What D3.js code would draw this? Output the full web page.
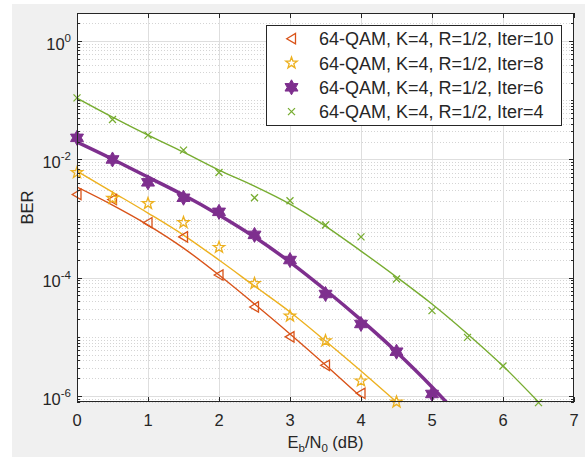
<!DOCTYPE html>
<html>
<head>
<meta charset="utf-8">
<script src="https://cdn.jsdelivr.net/npm/d3@7"></script>
<style>
	html, body { margin: 0; padding: 0; background: #fff; }
	svg { display: block; font-family: "Liberation Sans", Arial, sans-serif; }
</style>
</head>
<body>
<div id="berChart"></div>
<script>
// BER 곡선 데이터
const legendLabels = [
	"64-QAM, K=4, R=1/2, Iter=10",
	"64-QAM, K=4, R=1/2, Iter=8",
	"64-QAM, K=4, R=1/2, Iter=6",
	"64-QAM, K=4, R=1/2, Iter=4"
];
const xTicks = [0, 1, 2, 3, 4, 5, 6, 7];
const yTickExps = [0, -2, -4, -6];

// 시뮬레이션 점 (마커)
const simX10 = [0, 0.5, 1, 1.5, 2, 2.5, 3, 3.5, 4];
const simIter10 = [2.56e-3, 2.1e-3, 8.5e-4, 4.9e-4, 1.11e-4, 3.2e-5, 1.0e-5, 3.3e-6, 1.11e-6];
const simX8 = [0, 0.5, 1, 1.5, 2, 2.5, 3, 3.5, 4, 4.5];
const simIter8 = [6.0e-3, 2.2e-3, 1.8e-3, 8.6e-4, 3.26e-4, 8.0e-5, 2.25e-5, 8.6e-6, 1.8e-6, 7.9e-7];
const simX6 = [0, 0.5, 1, 1.5, 2, 2.5, 3, 3.5, 4, 4.5, 5];
const simIter6 = [2.32e-2, 1.0e-2, 4.1e-3, 2.25e-3, 1.3e-3, 5.3e-4, 1.99e-4, 5.3e-5, 1.65e-5, 5.6e-6, 1.08e-6];
const simX4 = [0, 0.5, 1, 1.5, 2, 2.5, 3, 3.5, 4, 4.5, 5, 5.5, 6, 6.5];
const simIter4 = [0.110, 0.0475, 0.0258, 0.0144, 6.0e-3, 2.25e-3, 2.0e-3, 7.8e-4, 4.9e-4, 9.5e-5, 2.77e-5, 9.8e-6, 3.2e-6, 7.7e-7];

// 근사 곡선 (실선)
const fitX10 = [0, 0.5, 1, 1.5, 2, 2.5, 3, 3.5, 4];
const fitIter10 = [3.41e-3, 1.69e-3, 7.77e-4, 3.17e-4, 1.11e-4, 3.59e-5, 1.12e-5, 3.34e-6, 9.62e-7];
const fitX8 = [0, 0.5, 1, 1.5, 2, 2.5, 3, 3.5, 4, 4.5];
const fitIter8 = [6.35e-3, 2.81e-3, 1.24e-3, 5.26e-4, 1.99e-4, 7.23e-5, 2.63e-5, 8.51e-6, 2.65e-6, 7.92e-7];
const fitX6 = [0, 0.5, 1, 1.5, 2, 2.5, 3, 3.5, 4, 4.5, 5, 5.2];
const fitIter6 = [1.96e-2, 1.01e-2, 5.03e-3, 2.50e-3, 1.15e-3, 4.87e-4, 1.84e-4, 6.19e-5, 1.93e-5, 5.55e-6, 1.42e-6, 7.9e-7];
const fitX4 = [0, 0.5, 1, 1.5, 2, 2.5, 3, 3.5, 4, 4.5, 5, 5.5, 6, 6.5];
const fitIter4 = [0.109, 0.052, 0.0258, 0.0133, 0.0066, 0.00354, 0.00176, 7.47e-4, 2.82e-4, 1.03e-4, 3.59e-5, 1.12e-5, 3.21e-6, 7.9e-7];

const width = 585, height = 457;
const plot = {left: 77, right: 574, top: 13, bottom: 402};
const textColor = "#262626";

const svg = d3.select("#berChart").append("svg")
	.attr("width", width)
	.attr("height", height);

// 배경 (MATLAB figure 회색)
svg.append("rect")
	.attr("x", 12).attr("y", 4)
	.attr("width", width - 12).attr("height", height - 4)
	.attr("fill", "#f0f0f0");
svg.append("rect")
	.attr("x", plot.left).attr("y", plot.top)
	.attr("width", plot.right - plot.left).attr("height", plot.bottom - plot.top)
	.attr("fill", "#fff");

const x = d3.scaleLinear().domain([0, 7]).range([plot.left, plot.right]);
const y = d3.scaleLog().domain([7.9e-7, 3]).range([plot.bottom, plot.top]);

// 보조 격자 (점선)
const minorVals = [];
for (let e = -7; e <= 0; e++) {
	for (let m = 1; m <= 9; m++) {
		const v = m * Math.pow(10, e);
		if (v >= 7.9e-7 && v <= 3 && !(m === 1 && e % 2 === 0)) minorVals.push(v);
	}
}
const gridG = svg.append("g");
gridG.selectAll(".minor-grid")
	.data(minorVals)
	.join("line")
	.attr("class", "minor-grid")
	.attr("x1", plot.left).attr("x2", plot.right)
	.attr("y1", d => Math.round(y(d)) + 0.5).attr("y2", d => Math.round(y(d)) + 0.5)
	.attr("stroke", "#d4d4d4")
	.attr("stroke-dasharray", "1,2");

// 주 격자
gridG.selectAll(".x-grid")
	.data(xTicks.slice(1, -1))
	.join("line")
	.attr("class", "x-grid")
	.attr("x1", d => Math.round(x(d)) + 0.5).attr("x2", d => Math.round(x(d)) + 0.5)
	.attr("y1", plot.top).attr("y2", plot.bottom)
	.attr("stroke", "#dedede");
gridG.selectAll(".y-grid")
	.data(yTickExps)
	.join("line")
	.attr("class", "y-grid")
	.attr("x1", plot.left).attr("x2", plot.right)
	.attr("y1", d => Math.round(y(Math.pow(10, d))) + 0.5)
	.attr("y2", d => Math.round(y(Math.pow(10, d))) + 0.5)
	.attr("stroke", "#dedede");

// 곡선 (플롯 영역에 클리핑)
svg.append("clipPath").attr("id", "plotClip")
	.append("rect")
	.attr("x", plot.left).attr("y", plot.top)
	.attr("width", plot.right - plot.left).attr("height", plot.bottom - plot.top);

const series = [
	{fx: fitX10, fy: fitIter10, sx: simX10, sy: simIter10, color: "#D95319", lw: 1.4, marker: "tri"},
	{fx: fitX8, fy: fitIter8, sx: simX8, sy: simIter8, color: "#EDB120", lw: 1.4, marker: "pent"},
	{fx: fitX6, fy: fitIter6, sx: simX6, sy: simIter6, color: "#7E2F8E", lw: 3.5, marker: "hex"},
	{fx: fitX4, fy: fitIter4, sx: simX4, sy: simIter4, color: "#77AC30", lw: 1.4, marker: "x"}
];

const line = d3.line()
	.x(d => x(d[0]))
	.y(d => y(d[1]))
	.curve(d3.curveMonotoneX);

const lineG = svg.append("g").attr("clip-path", "url(#plotClip)");
series.forEach(s => {
	lineG.append("path")
		.datum(d3.zip(s.fx, s.fy))
		.attr("fill", "none")
		.attr("stroke", s.color)
		.attr("stroke-width", s.lw)
		.attr("d", line);
});

function starPath(n, rOut, rIn) {
	const pts = [];
	for (let i = 0; i < 2 * n; i++) {
		const a = -Math.PI / 2 + i * Math.PI / n;
		const r = i % 2 === 0 ? rOut : rIn;
		pts.push([r * Math.cos(a), r * Math.sin(a)]);
	}
	return "M" + pts.map(p => p.join(",")).join("L") + "Z";
}
const markerPaths = {
	tri: "M-4.8,0L4,-5.2L4,5.2Z",
	pent: starPath(5, 6, 2.4),
	hex: starPath(6, 7.5, 4.3),
	x: "M-3.5,-3.5L3.5,3.5M-3.5,3.5L3.5,-3.5"
};
function markerStyle(sel, s) {
	sel.attr("d", markerPaths[s.marker])
		.attr("fill", s.marker === "hex" ? s.color : "none")
		.attr("stroke", s.color)
		.attr("stroke-width", s.marker === "hex" ? 1 : 1.3)
		.attr("stroke-linejoin", "miter");
}

series.forEach(s => {
	svg.append("g").selectAll("path")
		.data(d3.zip(s.sx, s.sy))
		.join("path")
		.attr("transform", d => `translate(${x(d[0])},${y(d[1])})`)
		.call(markerStyle, s);
});

// 축 테두리와 눈금
const axisG = svg.append("g").attr("stroke", textColor).attr("fill", "none");
axisG.append("rect")
	.attr("x", plot.left + 0.5).attr("y", plot.top + 0.5)
	.attr("width", plot.right - plot.left - 1).attr("height", plot.bottom - plot.top - 1);

xTicks.forEach(t => {
	const px = Math.round(x(t)) + 0.5;
	axisG.append("line").attr("x1", px).attr("x2", px).attr("y1", plot.bottom).attr("y2", plot.bottom - 5);
	axisG.append("line").attr("x1", px).attr("x2", px).attr("y1", plot.top).attr("y2", plot.top + 5);
});
minorVals.forEach(v => {
	const py = Math.round(y(v)) + 0.5;
	axisG.append("line").attr("x1", plot.left).attr("x2", plot.left + 3).attr("y1", py).attr("y2", py);
	axisG.append("line").attr("x1", plot.right).attr("x2", plot.right - 3).attr("y1", py).attr("y2", py);
});
yTickExps.forEach(e => {
	const py = Math.round(y(Math.pow(10, e))) + 0.5;
	axisG.append("line").attr("x1", plot.left).attr("x2", plot.left + 5).attr("y1", py).attr("y2", py);
	axisG.append("line").attr("x1", plot.right).attr("x2", plot.right - 5).attr("y1", py).attr("y2", py);
});

// 눈금 라벨
svg.append("g").selectAll("text")
	.data(xTicks)
	.join("text")
	.attr("x", d => x(d))
	.attr("y", 426)
	.attr("text-anchor", "middle")
	.attr("font-size", 16.5)
	.attr("fill", textColor)
	.text(d => d);

const yLabels = svg.append("g").selectAll("text")
	.data(yTickExps)
	.join("text")
	.attr("x", 71)
	.attr("y", d => y(Math.pow(10, d)) + 9)
	.attr("text-anchor", "end")
	.attr("font-size", 16.5)
	.attr("fill", textColor);
yLabels.append("tspan").text("10");
yLabels.append("tspan")
	.attr("dy", -8)
	.attr("font-size", 11.5)
	.text(d => d);

// 축 제목
const xLabel = svg.append("text")
	.attr("x", (plot.left + plot.right) / 2)
	.attr("y", 448)
	.attr("text-anchor", "middle")
	.attr("font-size", 16.5)
	.attr("fill", textColor);
xLabel.append("tspan").text("E");
xLabel.append("tspan").attr("dy", 4).attr("font-size", 11.5).text("b");
xLabel.append("tspan").attr("dy", -4).text("/N");
xLabel.append("tspan").attr("dy", 4).attr("font-size", 11.5).text("0");
xLabel.append("tspan").attr("dy", -4).text(" (dB)");

svg.append("text")
	.attr("transform", `translate(33,${(plot.top + plot.bottom) / 2}) rotate(-90)`)
	.attr("text-anchor", "middle")
	.attr("font-size", 16.5)
	.attr("fill", textColor)
	.text("BER");

// 범례
const legend = svg.append("g");
legend.append("rect")
	.attr("x", 266.5).attr("y", 25.5)
	.attr("width", 295).attr("height", 100)
	.attr("fill", "#fff")
	.attr("stroke", textColor);

series.forEach((s, i) => {
	const ly = 38.7 + i * 24.3;
	legend.append("path")
		.attr("transform", `translate(291.5,${ly})`)
		.call(markerStyle, s);
	legend.append("text")
		.attr("x", 319)
		.attr("y", ly + 6.5)
		.attr("font-size", 18)
		.attr("fill", textColor)
		.text(legendLabels[i]);
});
</script>
</body>
</html>
